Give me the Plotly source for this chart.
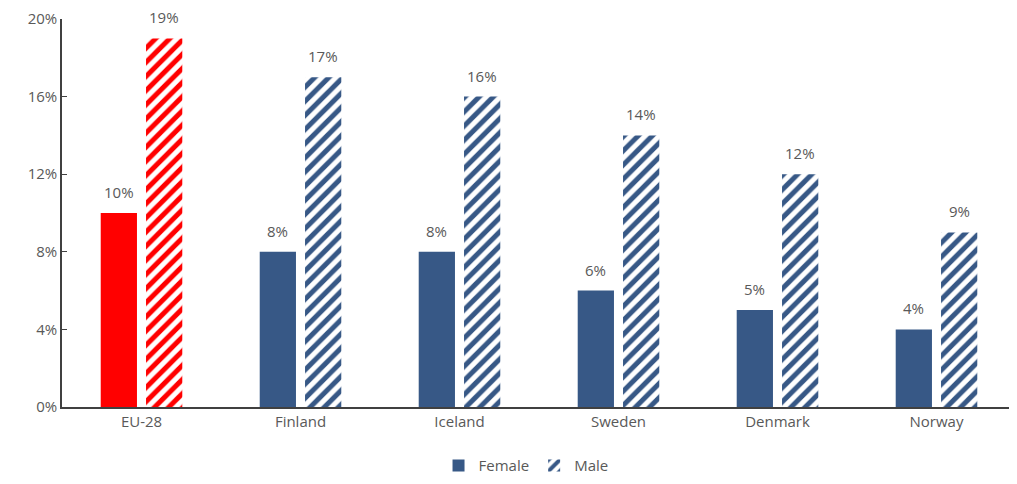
import plotly.graph_objects as go

categories = ["EU-28", "Finland", "Iceland", "Sweden", "Denmark", "Norway"]
female = [10, 8, 8, 6, 5, 4]
male = [19, 17, 16, 14, 12, 9]

RED = "#FF0000"
NAVY = "#375886"
TXT = "#595959"

fig = go.Figure()

def add(xs, ys, name, color, hatched, show):
    kw = dict(
        x=xs, y=ys, name=name, showlegend=show,
        offsetgroup="m" if hatched else "f",
        legendgroup=name,
        cliponaxis=False,
    )
    if hatched:
        kw["marker"] = dict(color="white", line=dict(width=0),
                            pattern=dict(shape="/", fgcolor=color, bgcolor="white",
                                         fgopacity=1, size=10, solidity=0.5))
    else:
        kw["marker"] = dict(color=color, line=dict(width=0))
    fig.add_trace(go.Bar(**kw))

add(categories[:1], female[:1], "Female", RED, False, False)
add(categories[1:], female[1:], "Female", NAVY, False, True)
add(categories[:1], male[:1], "Male", RED, True, False)
add(categories[1:], male[1:], "Male", NAVY, True, True)

# value labels above the bars (offset left/right of category centre by half a bar slot)
for series, dx in ((female, -22.6), (male, 22.6)):
    for c, v in zip(categories, series):
        fig.add_annotation(x=c, y=v, xref="x", yref="y", text=f"{v}%",
                           showarrow=False, xshift=dx, yshift=9,
                           yanchor="bottom", xanchor="center",
                           font=dict(size=15, color=TXT))

fig.update_layout(
    width=1001, height=468,
    margin=dict(l=54, r=0, t=11, b=69, autoexpand=False),
    paper_bgcolor="white", plot_bgcolor="white",
    barmode="group", bargap=0.43, bargroupgap=0.2,
    font=dict(family="Open Sans, sans-serif", color=TXT, size=15),
    legend=dict(orientation="h", x=0.49, xanchor="center",
                yref="container", y=0.022, yanchor="middle",
                font=dict(size=15, color=TXT), traceorder="normal",
                itemwidth=30),
    xaxis=dict(categoryorder="array", categoryarray=categories,
               range=[-0.5, 5.456],
               showline=True, linecolor="#404040", linewidth=1.5,
               ticks="", tickfont=dict(size=15, color=TXT), showgrid=False),
    yaxis=dict(range=[0, 20], dtick=4, ticksuffix="%", showgrid=False,
               showline=True, linecolor="#404040", linewidth=1.5,
               ticks="inside", ticklen=5, tickcolor="#404040",
               tickfont=dict(size=15, color=TXT), zeroline=False),
)

fig.write_html("out.html")
